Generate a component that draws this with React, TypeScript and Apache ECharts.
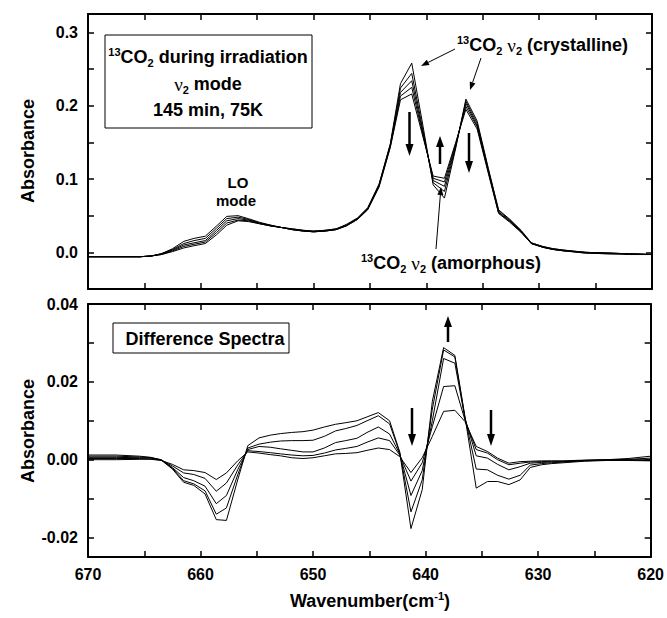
import React, { useEffect, useRef } from 'react';
import * as echarts from 'echarts';

// Wavenumber grid (cm-1)
const wavenumbers = [670, 667.5, 665.4, 664.4, 663.5, 662.5, 661.5, 660.6, 659.6, 658.6, 657.7, 656.7, 655.8, 654.8, 653.8, 652.9, 651.9, 650.9, 650.0, 649.0, 648.0, 647.1, 646.1, 645.2, 644.2, 643.2, 642.3, 641.3, 640.3, 639.4, 638.4, 637.4, 636.5, 635.5, 634.5, 633.6, 632.6, 631.6, 630.7, 629.7, 628.8, 627.8, 625.9, 623.9, 622.0, 620.0];

// Top panel: absorbance spectra during irradiation
const spec1 = [-0.006,-0.006,-0.006,-0.005,-0.002,0.005,0.015,0.019,0.022,0.036,0.049,0.050,0.046,0.041,0.037,0.034,0.032,0.030,0.029,0.030,0.032,0.038,0.047,0.061,0.093,0.148,0.230,0.258,0.172,0.092,0.074,0.142,0.209,0.179,0.114,0.058,0.045,0.030,0.013,0.008,0.005,0.003,0.000,-0.001,-0.002,-0.003];
const spec2 = [-0.006,-0.006,-0.006,-0.005,-0.002,0.004,0.012,0.016,0.019,0.033,0.046,0.048,0.045,0.040,0.037,0.034,0.032,0.030,0.029,0.030,0.032,0.037,0.046,0.060,0.092,0.147,0.224,0.244,0.166,0.095,0.083,0.144,0.206,0.176,0.112,0.057,0.044,0.029,0.013,0.008,0.005,0.003,0.000,-0.001,-0.002,-0.003];
const spec3 = [-0.006,-0.006,-0.006,-0.005,-0.002,0.003,0.010,0.013,0.016,0.030,0.043,0.046,0.044,0.040,0.036,0.034,0.031,0.029,0.028,0.029,0.031,0.037,0.046,0.059,0.091,0.146,0.218,0.234,0.163,0.098,0.090,0.146,0.203,0.173,0.110,0.055,0.043,0.028,0.012,0.007,0.004,0.002,0.000,-0.001,-0.002,-0.003];
const spec4 = [-0.006,-0.006,-0.006,-0.005,-0.003,0.002,0.008,0.011,0.014,0.027,0.040,0.044,0.043,0.039,0.036,0.034,0.031,0.029,0.028,0.029,0.031,0.036,0.045,0.059,0.090,0.144,0.213,0.225,0.160,0.101,0.096,0.148,0.199,0.171,0.109,0.054,0.042,0.028,0.012,0.007,0.004,0.002,-0.001,-0.002,-0.002,-0.003];
const spec5 = [-0.006,-0.006,-0.006,-0.005,-0.003,0.001,0.006,0.009,0.012,0.024,0.037,0.043,0.042,0.039,0.036,0.034,0.031,0.029,0.028,0.029,0.031,0.036,0.045,0.058,0.089,0.143,0.208,0.216,0.157,0.104,0.101,0.150,0.195,0.168,0.107,0.053,0.041,0.027,0.012,0.007,0.004,0.002,-0.001,-0.002,-0.003,-0.003];

// Bottom panel: difference spectra
const diff1 = [0.0000,0.0000,0.0001,0.0001,-0.0002,-0.0012,-0.0026,-0.0028,-0.0033,-0.0051,-0.0034,-0.0003,0.0020,0.0017,0.0013,0.0010,0.0005,0.0003,0.0005,0.0010,0.0015,0.0016,0.0018,0.0024,0.0030,0.0026,0.0008,-0.0033,0.0005,0.0060,0.0124,0.0127,0.0098,0.0034,0.0021,0.0004,-0.0009,-0.0005,-0.0004,-0.0003,-0.0003,-0.0003,-0.0001,0.0000,0.0003,0.0009];
const diff2 = [0.0003,0.0003,0.0003,0.0002,-0.0001,-0.0016,-0.0034,-0.0038,-0.0048,-0.0081,-0.0060,-0.0014,0.0023,0.0021,0.0018,0.0015,0.0012,0.0010,0.0011,0.0017,0.0025,0.0029,0.0034,0.0045,0.0056,0.0049,0.0012,-0.0055,-0.0008,0.0085,0.0188,0.0190,0.0102,0.0026,0.0017,0.0000,-0.0013,-0.0009,-0.0006,-0.0005,-0.0004,-0.0004,-0.0002,0.0000,0.0001,0.0004];
const diff3 = [0.0006,0.0006,0.0005,0.0004,0.0000,-0.0020,-0.0046,-0.0054,-0.0068,-0.0113,-0.0092,-0.0026,0.0026,0.0034,0.0032,0.0028,0.0024,0.0020,0.0020,0.0030,0.0044,0.0049,0.0055,0.0070,0.0084,0.0066,0.0015,-0.0092,-0.0028,0.0100,0.0260,0.0248,0.0106,0.0010,0.0004,-0.0012,-0.0026,-0.0018,-0.0009,-0.0007,-0.0006,-0.0005,-0.0002,-0.0001,0.0000,0.0000];
const diff4 = [0.0009,0.0009,0.0007,0.0005,0.0000,-0.0022,-0.0054,-0.0062,-0.0080,-0.0140,-0.0124,-0.0039,0.0030,0.0040,0.0045,0.0048,0.0049,0.0049,0.0050,0.0060,0.0074,0.0080,0.0088,0.0100,0.0113,0.0092,0.0018,-0.0134,-0.0052,0.0130,0.0282,0.0264,0.0108,-0.0024,-0.0026,-0.0040,-0.0050,-0.0040,-0.0014,-0.0010,-0.0008,-0.0006,-0.0003,-0.0001,-0.0001,-0.0002];
const diff5 = [0.0012,0.0012,0.0009,0.0006,-0.0001,-0.0024,-0.0058,-0.0066,-0.0088,-0.0154,-0.0156,-0.0052,0.0036,0.0056,0.0063,0.0067,0.0070,0.0072,0.0076,0.0084,0.0091,0.0095,0.0100,0.0110,0.0121,0.0100,0.0020,-0.0177,-0.0077,0.0150,0.0288,0.0268,0.0110,-0.0073,-0.0056,-0.0056,-0.0064,-0.0052,-0.0020,-0.0013,-0.0010,-0.0008,-0.0004,-0.0002,-0.0002,-0.0003];

const spectra = [spec1, spec2, spec3, spec4, spec5];
const diffs = [diff1, diff2, diff3, diff4, diff5];

// Axis ticks / labels
const xTicks = [620, 625, 630, 635, 640, 645, 650, 655, 660, 665, 670];
const xLabels = [620, 630, 640, 650, 660, 670];
const topYTicks = [-0.05, 0, 0.05, 0.1, 0.15, 0.2, 0.25, 0.3];
const topYLabels = [0, 0.1, 0.2, 0.3];
const botYTicks = [-0.02, -0.01, 0, 0.01, 0.02, 0.03, 0.04];
const botYLabels = [-0.02, 0, 0.02, 0.04];

const FONT = 'Liberation Sans';

function arrow(x1: number, y1: number, x2: number, y2: number, w: number, hl: number, hw: number) {
  const dx = x2 - x1, dy = y2 - y1;
  const len = Math.sqrt(dx * dx + dy * dy);
  const ux = dx / len, uy = dy / len;
  const bx = x2 - ux * hl, by = y2 - uy * hl;
  return [
    { type: 'line', shape: { x1, y1, x2: bx, y2: by }, style: { stroke: '#000', lineWidth: w }, silent: true },
    {
      type: 'polygon',
      shape: { points: [[x2, y2], [bx - uy * hw, by + ux * hw], [bx + uy * hw, by - ux * hw]] },
      style: { fill: '#000' },
      silent: true,
    },
  ];
}

const rich = {
  b: { fontFamily: FONT, fontWeight: 'bold', fontSize: 18, lineHeight: 22, fill: '#000' },
  sup: { fontFamily: FONT, fontWeight: 'bold', fontSize: 11, lineHeight: 11, verticalAlign: 'top', fill: '#000' },
  sub: { fontFamily: FONT, fontWeight: 'bold', fontSize: 11, lineHeight: 11, verticalAlign: 'bottom', fill: '#000' },
  nu: { fontFamily: 'Liberation Serif', fontSize: 19, lineHeight: 22, fill: '#000' },
};

function txt(x: number, y: number, text: string, align = 'center', extra: any = {}) {
  return {
    type: 'text',
    x,
    y,
    silent: true,
    ...extra,
    style: { text, align, verticalAlign: 'middle', rich, fill: '#000', fontFamily: FONT, fontWeight: 'bold', fontSize: 18 },
  };
}

function xAxisDef(grid: number, pos: string, labels: boolean) {
  return {
    gridIndex: grid,
    type: 'value',
    min: 620,
    max: 670,
    interval: 5,
    inverse: true,
    position: pos,
    axisLine: { show: true, onZero: false, lineStyle: { color: '#000', width: 2 } },
    axisTick: { show: true, inside: true, length: 6, customValues: xTicks, lineStyle: { color: '#000', width: 1.5 } },
    axisLabel: {
      show: labels,
      customValues: xLabels,
      margin: 9,
      color: '#000',
      fontFamily: FONT,
      fontWeight: 'bold',
      fontSize: 16,
      formatter: (v: number) => String(Math.round(v)),
    },
    splitLine: { show: false },
  };
}

function yAxisDef(grid: number, pos: string, min: number, max: number, interval: number, ticks: number[], labels: number[] | null, digits: number) {
  return {
    gridIndex: grid,
    type: 'value',
    min,
    max,
    interval,
    position: pos,
    axisLine: { show: true, onZero: false, lineStyle: { color: '#000', width: 2 } },
    axisTick: { show: true, inside: true, length: 6, customValues: ticks, lineStyle: { color: '#000', width: 1.5 } },
    axisLabel: {
      show: !!labels,
      customValues: labels || [],
      margin: 10,
      color: '#000',
      fontFamily: FONT,
      fontWeight: 'bold',
      fontSize: 16,
      formatter: (v: number) => (Math.abs(v) < 1e-9 ? 0 : v).toFixed(digits),
    },
    splitLine: { show: false },
  };
}

export default function App() {
  const ref = useRef<HTMLDivElement>(null);
  useEffect(() => {
    if (!ref.current) return;
    const chart = echarts.init(ref.current, null, { renderer: 'svg' });
    const series: any[] = [];
    spectra.forEach((s, i) => {
      series.push({
        name: 'spectrum ' + (i + 1),
        type: 'line',
        xAxisIndex: 0,
        yAxisIndex: 0,
        symbol: 'none',
        silent: true,
        lineStyle: { color: '#000', width: 1 },
        data: wavenumbers.map((w, j) => [w, s[j]]),
      });
    });
    diffs.forEach((s, i) => {
      series.push({
        name: 'difference ' + (i + 1),
        type: 'line',
        xAxisIndex: 2,
        yAxisIndex: 2,
        symbol: 'none',
        silent: true,
        lineStyle: { color: '#000', width: 1 },
        data: wavenumbers.map((w, j) => [w, s[j]]),
      });
    });

    const graphics: any[] = [
      // info box top
      { type: 'rect', shape: { x: 105, y: 35, width: 207, height: 93 }, style: { fill: 'none', stroke: '#000', lineWidth: 1 }, silent: true },
      txt(208, 57, '{sup|13}{b|CO}{sub|2}{b| during irradiation}'),
      txt(208, 84, '{nu|ν}{sub|2}{b| mode}'),
      txt(208, 110, '{b|145 min, 75K}'),
      // annotations
      txt(457, 45, '{sup|13}{b|CO}{sub|2}{b| }{nu|ν}{sub|2}{b| (crystalline)}', 'left'),
      txt(361, 263, '{sup|13}{b|CO}{sub|2}{b| }{nu|ν}{sub|2}{b| (amorphous)}', 'left'),
      { type: 'text', x: 238, y: 182, silent: true, style: { text: 'LO', align: 'center', verticalAlign: 'middle', fill: '#000', fontFamily: FONT, fontWeight: 'bold', fontSize: 15 } },
      { type: 'text', x: 236, y: 200, silent: true, style: { text: 'mode', align: 'center', verticalAlign: 'middle', fill: '#000', fontFamily: FONT, fontWeight: 'bold', fontSize: 15 } },
      ...arrow(455, 49, 421, 66, 1, 8, 3),
      ...arrow(481, 58, 470, 90, 1, 8, 3),
      ...arrow(436, 249, 441, 187, 1, 8, 3),
      ...arrow(409.5, 112, 409.5, 156, 2.5, 12, 4),
      ...arrow(440, 164, 440, 136, 2.5, 11, 4),
      ...arrow(469, 133, 469, 173, 2.5, 12, 4),
      // bottom panel
      { type: 'rect', shape: { x: 113, y: 323, width: 176, height: 30 }, style: { fill: 'none', stroke: '#000', lineWidth: 1 }, silent: true },
      txt(205, 339, '{b|Difference Spectra}'),
      ...arrow(412, 408, 412, 446, 2.5, 12, 4),
      ...arrow(448, 342, 448, 316, 2.5, 11, 4),
      ...arrow(491, 410, 491, 446, 2.5, 12, 4),
      // axis titles
      txt(28, 151, '{b|Absorbance}', 'center', { rotation: Math.PI / 2 }),
      txt(28, 431, '{b|Absorbance}', 'center', { rotation: Math.PI / 2 }),
      txt(370, 601, '{b|Wavenumber(cm}{sup|-1}{b|)}'),
    ];

    chart.setOption({
      animation: false,
      backgroundColor: '#fff',
      textStyle: { fontFamily: FONT },
      grid: [
        { left: 88, right: 15, top: 14, height: 275 },
        { left: 88, right: 15, top: 304, height: 253 },
      ],
      xAxis: [
        xAxisDef(0, 'bottom', false),
        xAxisDef(0, 'top', false),
        xAxisDef(1, 'bottom', true),
        xAxisDef(1, 'top', false),
      ],
      yAxis: [
        yAxisDef(0, 'left', -0.05, 0.325, 0.05, topYTicks, topYLabels, 1),
        yAxisDef(0, 'right', -0.05, 0.325, 0.05, topYTicks, null, 1),
        yAxisDef(1, 'left', -0.025, 0.04, 0.005, botYTicks, botYLabels, 2),
        yAxisDef(1, 'right', -0.025, 0.04, 0.005, botYTicks, null, 2),
      ],
      series,
      graphic: graphics,
    });
    return () => chart.dispose();
  }, []);
  return <div ref={ref} style={{ position: 'fixed', left: 0, top: 0, width: 667, height: 618 }} />;
}
